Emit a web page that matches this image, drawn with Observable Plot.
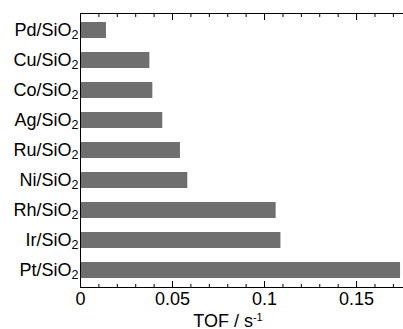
<!DOCTYPE html>
<html><head><meta charset="utf-8">
<script src="https://cdn.jsdelivr.net/npm/d3@7"></script>
<script src="https://cdn.jsdelivr.net/npm/@observablehq/plot@0.6"></script>
<style>body{margin:0;background:#fff} svg{display:block}</style>
</head><body><div id="chart"></div>
<script>
const catalysts = ["Pd/SiO2","Cu/SiO2","Co/SiO2","Ag/SiO2","Ru/SiO2","Ni/SiO2","Rh/SiO2","Ir/SiO2","Pt/SiO2"];
const tof = [0.0141,0.0377,0.0393,0.0447,0.0543,0.0583,0.1063,0.1089,0.1739];
const majorTicks = [0, 0.05, 0.1, 0.15];
const majorLabels = ["0", "0.05", "0.1", "0.15"];
const minorTicks = [0.01,0.02,0.03,0.04,0.06,0.07,0.08,0.09,0.11,0.12,0.13,0.14,0.16,0.17];
const xTitle = "TOF / s";
const xTitleSup = "-1";

const rows = catalysts.map((c, i) => ({name: c, tof: tof[i]}));

const chart = Plot.plot({
  width: 403,
  height: 329,
  marginLeft: 80,
  marginRight: 0,
  marginTop: 13,
  marginBottom: 42,
  style: {fontFamily: "'Liberation Sans', Arial, sans-serif", color: "#000", background: "#fff"},
  x: {domain: [0, 0.1755], label: null},
  y: {domain: catalysts, paddingInner: 0.47, paddingOuter: 0.235, label: null},
  marks: [
    Plot.barX(rows, {x: "tof", y: "name", fill: "#6f6f6f"}),
    Plot.frame({stroke: "#000", insetRight: -3}),
    Plot.axisX({anchor: "bottom", ticks: majorTicks, tickSize: -6, tickFormat: () => "", label: null}),
    Plot.axisX({anchor: "bottom", ticks: minorTicks, tickSize: -3, tickFormat: () => "", label: null}),
    Plot.axisX({anchor: "top", ticks: majorTicks, tickSize: -6, tickFormat: () => "", label: null}),
    Plot.axisX({anchor: "top", ticks: minorTicks, tickSize: -3, tickFormat: () => "", label: null}),
    Plot.axisX({anchor: "bottom", ticks: majorTicks, tickSize: 0, tickPadding: 5, fontSize: 18,
      tickFormat: (d) => majorLabels[majorTicks.indexOf(d)], label: null}),
    Plot.axisY({anchor: "left", tickSize: 0, tickPadding: 2, fontSize: 18, label: null}),
    Plot.text([xTitle], {frameAnchor: "bottom", lineAnchor: "bottom", dy: 39, dx: -14, fontSize: 18})
  ]
});

// subscripts / superscripts as real text
chart.querySelectorAll('g[aria-label="y-axis tick label"] text').forEach(t => {
  const s = t.textContent;
  t.textContent = s.slice(0, -1);
  const ts = document.createElementNS("http://www.w3.org/2000/svg", "tspan");
  ts.setAttribute("dy", "0.25em");
  ts.setAttribute("font-size", "12.5");
  ts.textContent = s.slice(-1);
  t.appendChild(ts);
});
chart.querySelectorAll('text').forEach(t => {
  if (t.textContent === xTitle) {
    const ts = document.createElementNS("http://www.w3.org/2000/svg", "tspan");
    ts.setAttribute("dy", "-0.5em");
    ts.setAttribute("font-size", "11");
    ts.textContent = xTitleSup;
    t.appendChild(ts);
  }
});
document.getElementById("chart").appendChild(chart);
</script>
</body></html>
